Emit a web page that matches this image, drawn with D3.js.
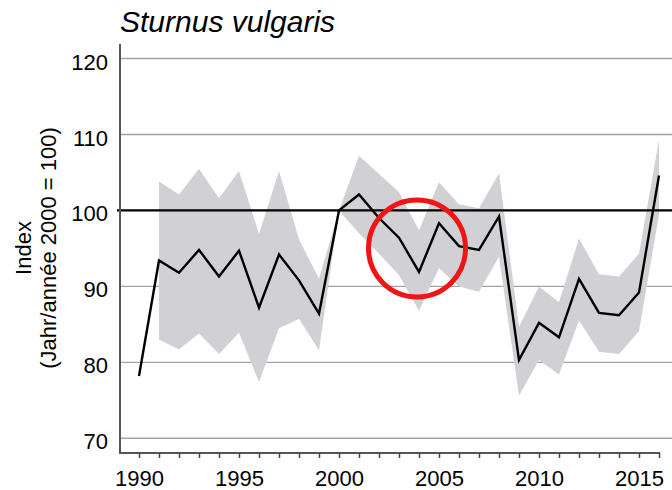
<!DOCTYPE html>
<html>
<head>
<meta charset="utf-8">
<script src="https://cdn.jsdelivr.net/npm/d3@7"></script>
<style>
  body { margin: 0; background: #fff; }
  svg { display: block; font-family: Arial, "Liberation Sans", sans-serif; }
</style>
</head>
<body>
<div id="chart"></div>
<script>
// values (index, 2000 = 100)
const years = d3.range(1990, 2017);
const indexValues = [78.2, 93.4, 91.8, 94.8, 91.3, 94.7, 87.2, 94.2, 90.8, 86.4, 100, 102.1, 99.0,
    96.4, 91.9, 98.3, 95.3, 94.8, 99.2, 80.3, 85.2, 83.3, 91.0, 86.5, 86.2, 89.2, 104.6];
const upperValues = [null, 103.8, 102.1, 105.5, 101.6, 105.2, 96.9, 105.2, 96.2, 91.0, 100, 107.2, 104.8,
    102.4, 97.4, 103.7, 100.8, 100.3, 104.9, 84.7, 90.0, 87.9, 96.3, 91.6, 91.3, 94.3, 109.3];
const lowerValues = [null, 83.0, 81.7, 83.8, 81.1, 83.9, 77.4, 84.5, 85.7, 81.6, 100, 97.0, 94.3,
    91.5, 86.8, 92.4, 90.0, 89.3, 93.9, 75.6, 80.3, 78.4, 85.5, 81.4, 81.1, 84.1, 99.5];
const yTicks = [70, 80, 90, 100, 110, 120];
const xLabelYears = [1990, 1995, 2000, 2005, 2010, 2015];
const highlight = { year: 2004, value: 95 };

const width = 672, height = 490;
const margin = { left: 120, top: 44, bottom: 453 };

const data = years.map((y, i) => ({
    year: y, value: indexValues[i], upper: upperValues[i], lower: lowerValues[i]
}));

const svg = d3.select('#chart').append('svg')
    .attr('width', width)
    .attr('height', height);

const x = d3.scaleLinear().domain([1990, 2016]).range([139, 659]);
const y = d3.scaleLinear().domain([70, 120]).range([438.3, 58.5]);

// gridlines
svg.append('g')
    .selectAll('line')
    .data(yTicks.filter(t => t !== 100))
    .join('line')
    .attr('x1', margin.left)
    .attr('x2', width)
    .attr('y1', d => y(d))
    .attr('y2', d => y(d))
    .attr('stroke', '#a3a3a3')
    .attr('stroke-width', 1.4);

// confidence band
const area = d3.area()
    .defined(d => d.upper != null)
    .x(d => x(d.year))
    .y0(d => y(d.lower))
    .y1(d => y(d.upper));

svg.append('path')
    .datum(data)
    .attr('d', area)
    .attr('fill', '#d1d0d4');

// reference line at 100
svg.append('line')
    .attr('x1', margin.left - 3)
    .attr('x2', width)
    .attr('y1', y(100))
    .attr('y2', y(100))
    .attr('stroke', '#000')
    .attr('stroke-width', 2.2);

// index line
svg.append('path')
    .datum(data)
    .attr('d', d3.line().x(d => x(d.year)).y(d => y(d.value)))
    .attr('fill', 'none')
    .attr('stroke', '#000')
    .attr('stroke-width', 2.4)
    .attr('stroke-linejoin', 'miter');

// axes lines
svg.append('line')
    .attr('x1', margin.left).attr('x2', margin.left)
    .attr('y1', margin.top).attr('y2', margin.bottom + 1)
    .attr('stroke', '#555').attr('stroke-width', 2);
svg.append('line')
    .attr('x1', margin.left - 1).attr('x2', x(2016) + 1)
    .attr('y1', margin.bottom).attr('y2', margin.bottom)
    .attr('stroke', '#555').attr('stroke-width', 2);

const xAxis = d3.axisBottom(x)
    .tickValues(years)
    .tickSize(5)
    .tickPadding(12)
    .tickFormat(d => xLabelYears.includes(d) ? d : '');

svg.append('g')
    .attr('transform', `translate(0,${margin.bottom})`)
    .call(xAxis)
    .call(g => g.select('.domain').remove())
    .call(g => g.selectAll('.tick line').attr('stroke', '#444').attr('stroke-width', 1.5))
    .call(g => g.selectAll('.tick text')
        .attr('font-size', 22)
        .attr('font-family', 'Arial, "Liberation Sans", sans-serif')
        .attr('fill', '#000'));

const yAxis = d3.axisLeft(y)
    .tickValues(yTicks)
    .tickSize(0)
    .tickPadding(12);

svg.append('g')
    .attr('transform', `translate(${margin.left},0)`)
    .call(yAxis)
    .call(g => g.select('.domain').remove())
    .call(g => g.selectAll('.tick text')
        .attr('font-size', 22)
        .attr('dy', '0.48em')
        .attr('font-family', 'Arial, "Liberation Sans", sans-serif')
        .attr('fill', '#000'));

// y axis title
const yTitle = svg.append('text')
    .attr('transform', 'translate(0,248) rotate(-90)')
    .attr('text-anchor', 'middle')
    .attr('font-size', 22)
    .attr('fill', '#000');
yTitle.append('tspan').attr('x', 0).attr('y', 31).text('Index');
yTitle.append('tspan').attr('x', 0).attr('y', 56).text('(Jahr/année 2000 = 100)');

// title
svg.append('text')
    .attr('x', 120)
    .attr('y', 32)
    .attr('font-size', 30)
    .attr('font-style', 'italic')
    .attr('fill', '#000')
    .text('Sturnus vulgaris');

// highlight circle
svg.append('circle')
    .attr('cx', x(highlight.year) - 2)
    .attr('cy', y(highlight.value))
    .attr('r', 48.5)
    .attr('fill', 'none')
    .attr('stroke', '#f01414')
    .attr('stroke-width', 5);
</script>
</body>
</html>
